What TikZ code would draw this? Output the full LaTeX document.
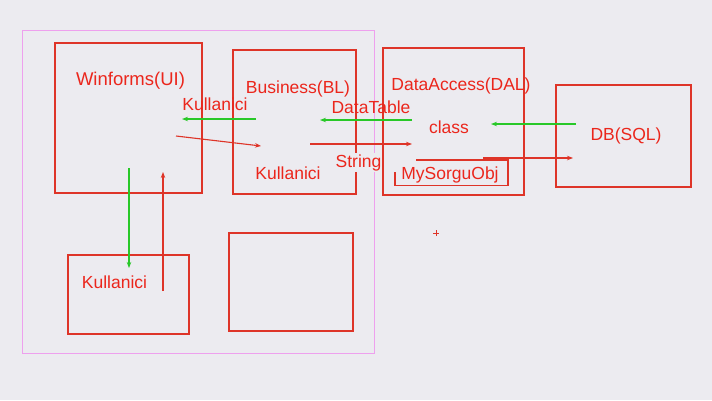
\documentclass[tikz,border=0pt]{standalone}
\usepackage{fontspec}
\setmainfont{Liberation Sans}
\usetikzlibrary{arrows.meta}
\definecolor{bg}{RGB}{236,235,240}
\definecolor{lred}{RGB}{222,52,40}
\definecolor{tred}{RGB}{235,38,28}
\definecolor{lgreen}{RGB}{40,200,40}
\definecolor{lpink}{RGB}{238,160,238}
\begin{document}
\begin{tikzpicture}[x=1pt,y=-1pt,
  box/.style={draw=lred,line width=1.1pt,inner sep=0pt},
  lbl/.style={text=tred,font=\fontsize{17.5}{20}\selectfont,inner sep=0pt,anchor=base},
  redarrow/.style={draw=lred,line width=1.1pt,-{Stealth[length=6pt,width=4.5pt]}},
  greenarrow/.style={draw=lgreen,line width=1.2pt,-{Stealth[length=6pt,width=4.5pt]}}]
\fill[bg] (0,0) rectangle (712,400);
\useasboundingbox (0,0) rectangle (712,400);
% boxes
\node[box,draw=lpink,line width=0.9pt,minimum width=352pt,minimum height=323pt] (pink) at (198,191.5) {};
\node[box,minimum width=147pt,minimum height=150pt] (ui) at (128.5,118) {};
\node[box,minimum width=123pt,minimum height=144pt] (bl) at (294.5,122) {};
\node[box,minimum width=141pt,minimum height=147pt] (dal) at (453.5,121.5) {};
\node[box,minimum width=135pt,minimum height=102pt] (db) at (623.5,136) {};
\node[box,minimum width=121pt,minimum height=79pt] (kul) at (128.5,294.5) {};
\node[box,minimum width=124pt,minimum height=98pt] (empty) at (291,282) {};
% labels
\node[lbl,font=\fontsize{18.5}{20}\selectfont] (tui) at (130.5,85) {Winforms(UI)};
\node[lbl] (tbl) at (298,93) {Business(BL)};
\node[lbl] (tdal) at (461,90) {DataAccess(DAL)};
\node[lbl] (tdb) at (626,140) {DB(SQL)};
\node[lbl] (tk1) at (215,110) {Kullanici};
\node[lbl] (tdt) at (371,113) {DataTable};
\node[lbl] (tcl) at (449,133) {class};
\node[lbl] (tk2) at (288,179) {Kullanici};
\node[lbl] (tk3) at (114.5,288) {Kullanici};
\node[lbl] (tmso) at (450,179) {MySorguObj};
\node[lbl,fill=bg,inner sep=1pt] (tstr) at (358.5,167) {String};
% MySorguObj outline
\draw[lred,line width=1.1pt] (416,160) -- (508,160) -- (508,185.5) -- (395,185.5) -- (395,172);
% arrow end points
\coordinate (g1a) at (256,119); \coordinate (g1b) at (182,119);
\coordinate (g2a) at (412,120); \coordinate (g2b) at (320,120);
\coordinate (g3a) at (576,124); \coordinate (g3b) at (491,124);
\coordinate (r1a) at (176,136); \coordinate (r1b) at (261,146);
\coordinate (r2a) at (310,144); \coordinate (r2b) at (412,144);
\coordinate (r3a) at (483,158); \coordinate (r3b) at (573,158);
\coordinate (gda) at (129,168); \coordinate (gdb) at (129,268);
\coordinate (rua) at (163,291); \coordinate (rub) at (163,172);
\draw[greenarrow] (g1a) -- (g1b);
\draw[greenarrow] (g2a) -- (g2b);
\draw[greenarrow] (g3a) -- (g3b);
\draw[greenarrow] (gda) -- (gdb);
\draw[redarrow] (r1a) -- (r1b);
\draw[redarrow] (r2a) -- (r2b);
\draw[redarrow] (r3a) -- (r3b);
\draw[redarrow] (rua) -- (rub);
% small plus
\coordinate (plus) at (436,233);
\draw[lred,line width=0.8pt] ([xshift=-3pt]plus) -- ([xshift=3pt]plus) ([yshift=-3pt]plus) -- ([yshift=3pt]plus);
\end{tikzpicture}
\end{document}
